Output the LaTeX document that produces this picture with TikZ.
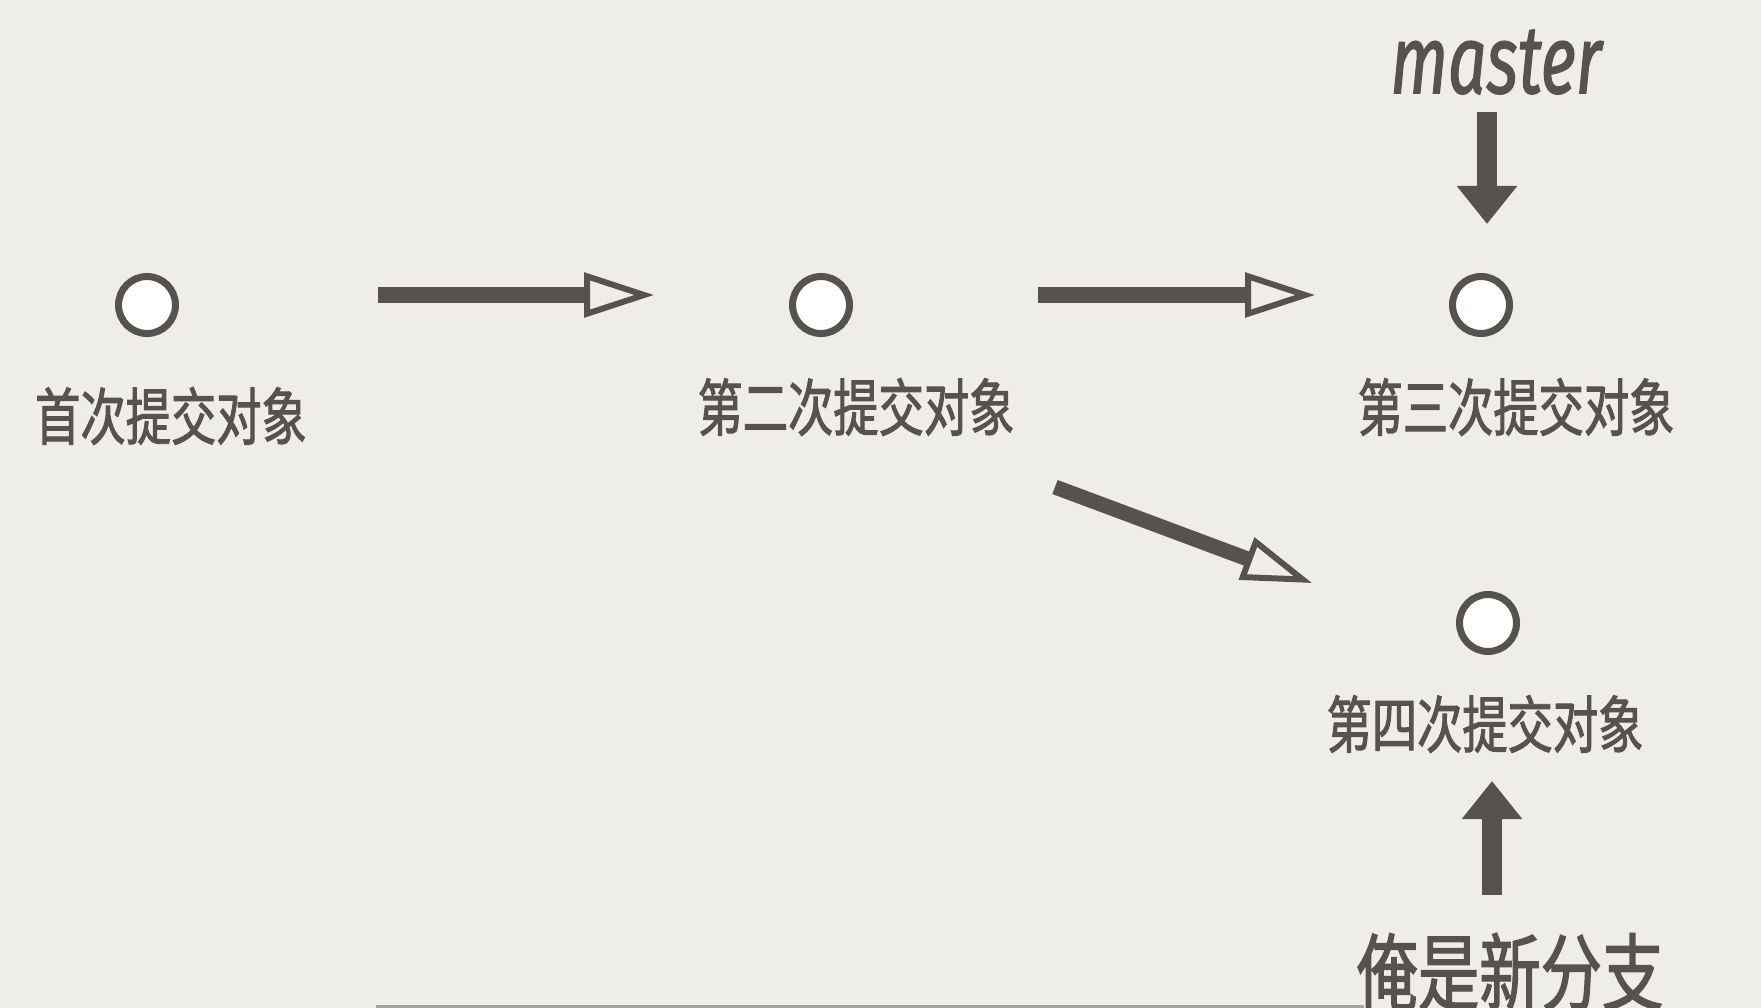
\documentclass[tikz,border=0pt]{standalone}
\usepackage{fontspec}
\usetikzlibrary{arrows.meta}
\newfontfamily\cjkfont[FakeStretch=0.73, FakeBold=1.6]{Noto Sans CJK SC}
\newfontfamily\tagfont[FakeStretch=0.70, FakeBold=1.2]{Fira Sans}
\definecolor{inkc}{RGB}{88,82,78}
\definecolor{paperc}{RGB}{239,237,231}
\definecolor{railc}{RGB}{165,163,158}

\begin{document}
\begin{tikzpicture}[x=1pt, y=-1pt,
		commit/.style={circle, draw=inkc, fill=white, line width=7pt, minimum size=57pt, inner sep=0pt},
		caption/.style={text=inkc, inner sep=0pt, font=\cjkfont\fontsize{62}{62}\selectfont},
		flow/.style={draw=inkc, line width=15pt, -{Triangle[open, length=70pt, width=44pt, line width=6pt]}},
		pointer/.style={draw=inkc, line width=20pt, -{Triangle[length=38pt, width=58pt]}}]
		% Page
		\useasboundingbox (0,0) rectangle (1761,1008);
		\fill[paperc] (0,0) rectangle (1761,1008);
		\draw[railc, line width=3pt] (376,1006) -- (1364,1006);
		% Commits
		\node[commit] (c1) at (147,305) {};
		\node[commit] (c2) at (821,305) {};
		\node[commit] (c3) at (1481,305) {};
		\node[commit] (c4) at (1488,623) {};
		\node[caption] (l1) at (171,416) {首次提交对象};
		\node[caption] (l2) at (856,407) {第二次提交对象};
		\node[caption] (l3) at (1516,407) {第三次提交对象};
		\node[caption] (l4) at (1485,724) {第四次提交对象};
		% Branch names
		\node[text=inkc, inner sep=0pt, font=\tagfont\itshape\fontsize{97}{97}\selectfont] (master) at (1496,62) {master};
		\node[text=inkc, inner sep=0pt, font=\cjkfont\fontsize{84}{84}\selectfont] (branch) at (1510,972) {俺是新分支};
		% Arrow ends
		\coordinate (f1a) at (378,295);
		\coordinate (f1b) at (654,295);
		\coordinate (f2a) at (1038,295);
		\coordinate (f2b) at (1315,295);
		\coordinate (f3a) at (1055,487);
		\coordinate (f3b) at (1312,583);
		\coordinate (pma) at (1487,112);
		\coordinate (pmb) at (1487,224);
		\coordinate (pba) at (1492,895);
		\coordinate (pbb) at (1492,781);
		% History
		\draw[flow] (f1a) -- (f1b);
		\draw[flow] (f2a) -- (f2b);
		\draw[flow] (f3a) -- (f3b);
		% Pointers
		\draw[pointer] (pma) -- (pmb);
		\draw[pointer] (pba) -- (pbb);
	\end{tikzpicture}
\end{document}
